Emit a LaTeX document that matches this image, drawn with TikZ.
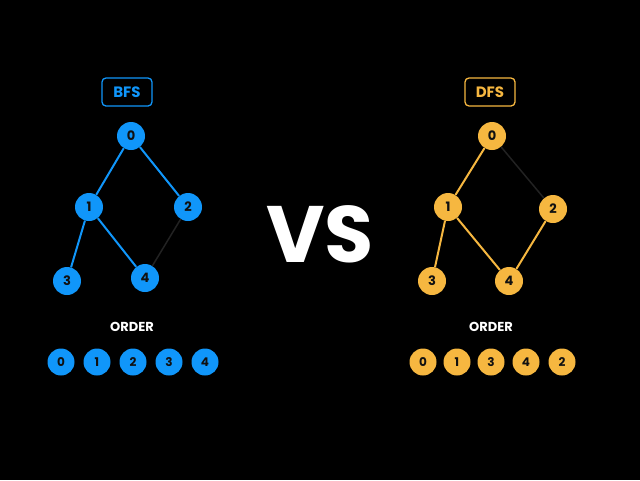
\documentclass[tikz,border=0pt]{standalone}
\usepackage{fontspec}
\setmainfont{Poppins}
\definecolor{bfsblue}{RGB}{16,150,250}
\definecolor{dfsamber}{RGB}{246,183,64}
\definecolor{darkedge}{RGB}{34,34,34}
\definecolor{digit}{RGB}{17,17,17}
\begin{document}
\begin{tikzpicture}[x=1pt,y=-1pt,
  vtx/.style={circle,minimum size=28pt,inner sep=0pt,fill=#1,text=digit,font=\fontsize{13}{13}\selectfont\bfseries},
  ord/.style={circle,minimum size=27pt,inner sep=0pt,fill=#1,text=digit,font=\fontsize{12}{12}\selectfont\bfseries},
  tag/.style={draw=#1,line width=1.3pt,rounded corners=4pt,minimum width=50pt,minimum height=28pt,inner sep=0pt,text=#1,font=\fontsize{15}{15}\selectfont\bfseries},
  edge/.style={line width=2pt,draw=#1},
  ordlbl/.style={text=white,font=\fontsize{13}{13}\selectfont\bfseries}]
\fill[black] (0,0) rectangle (640,480);
\useasboundingbox (0,0) rectangle (640,480);
% BFS
\node[tag=bfsblue] (bfstag) at (127,92) {BFS};
\node[vtx=bfsblue] (b0) at (131,136) {0};
\node[vtx=bfsblue] (b1) at (89,207) {1};
\node[vtx=bfsblue] (b2) at (188,207) {2};
\node[vtx=bfsblue] (b3) at (67,281) {3};
\node[vtx=bfsblue] (b4) at (145,278) {4};
\draw[edge=bfsblue] (b0) -- (b1);
\draw[edge=bfsblue] (b0) -- (b2);
\draw[edge=bfsblue] (b1) -- (b3);
\draw[edge=bfsblue] (b1) -- (b4);
\draw[edge=darkedge,line width=1.5pt] (b2) -- (b4);
\node[ordlbl] (bord) at (132,327) {ORDER};
\node[ord=bfsblue] (bo0) at (61,362) {0};
\node[ord=bfsblue] (bo1) at (97,362) {1};
\node[ord=bfsblue] (bo2) at (133,362) {2};
\node[ord=bfsblue] (bo3) at (169,362) {3};
\node[ord=bfsblue] (bo4) at (205,362) {4};
% VS
\node[text=white,font=\fontsize{80}{80}\selectfont\bfseries] (vs) at (320,234) {VS};
% DFS
\node[tag=dfsamber] (dfstag) at (490,92) {DFS};
\node[vtx=dfsamber] (d0) at (492,136) {0};
\node[vtx=dfsamber] (d1) at (448,207) {1};
\node[vtx=dfsamber] (d2) at (553,209) {2};
\node[vtx=dfsamber] (d3) at (432,281) {3};
\node[vtx=dfsamber] (d4) at (509,281) {4};
\draw[edge=dfsamber] (d0) -- (d1);
\draw[edge=dfsamber] (d1) -- (d3);
\draw[edge=dfsamber] (d1) -- (d4);
\draw[edge=dfsamber] (d4) -- (d2);
\draw[edge=darkedge,line width=1.5pt] (d0) -- (d2);
\node[ordlbl] (dord) at (491,327) {ORDER};
\node[ord=dfsamber] (do0) at (423,362) {0};
\node[ord=dfsamber] (do1) at (457,362) {1};
\node[ord=dfsamber] (do2) at (491,362) {3};
\node[ord=dfsamber] (do3) at (526,362) {4};
\node[ord=dfsamber] (do4) at (562,362) {2};
\end{tikzpicture}
\end{document}
